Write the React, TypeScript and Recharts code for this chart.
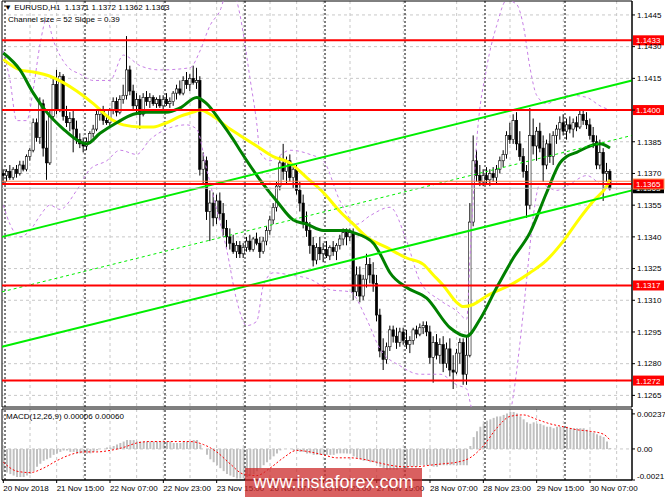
import React from 'react';
import { ComposedChart, Bar, Line, XAxis, YAxis, ReferenceLine, ReferenceArea, CartesianGrid } from 'recharts';

// ---------- DATA ----------
// hourly EURUSD candles [open, high, low, close], 20 Nov 23:00 .. 30 Nov 14:00
const candles: number[][] = [
  [1.1370,1.1372,1.1365,1.1369],[1.1369,1.1372,1.1366,1.1371],[1.1371,1.1374,1.1367,1.1368],[1.1368,1.1373,1.1367,1.1372],[1.1372,1.1374,1.1368,1.1370],
  [1.1370,1.1376,1.1369,1.1374],[1.1374,1.1376,1.1371,1.1372],[1.1372,1.1379,1.1371,1.1378],[1.1378,1.1382,1.1376,1.1381],[1.1381,1.1396,1.1380,1.1394],
  [1.1394,1.1396,1.1385,1.1387],[1.1387,1.1406,1.1384,1.1403],[1.1403,1.1405,1.1378,1.1382],[1.1382,1.1395,1.1367,1.1375],[1.1375,1.1400,1.1374,1.1397],
  [1.1397,1.1415,1.1396,1.1412],[1.1412,1.1419,1.1398,1.1400],[1.1400,1.1418,1.1399,1.1416],[1.1416,1.1417,1.1395,1.1397],[1.1397,1.1402,1.1392,1.1394],
  [1.1394,1.1399,1.1390,1.1396],[1.1396,1.1400,1.1380,1.1391],[1.1391,1.1395,1.1384,1.1386],[1.1386,1.1389,1.1382,1.1384],[1.1384,1.1387,1.1380,1.1383],
  [1.1383,1.1387,1.1381,1.1385],[1.1385,1.1390,1.1384,1.1389],[1.1389,1.1393,1.1387,1.1391],[1.1391,1.1400,1.1390,1.1398],[1.1398,1.1401,1.1395,1.1400],
  [1.1400,1.1402,1.1393,1.1395],[1.1395,1.1398,1.1393,1.1394],[1.1394,1.1401,1.1392,1.1400],[1.1400,1.1406,1.1398,1.1404],[1.1404,1.1406,1.1397,1.1399],
  [1.1399,1.1407,1.1398,1.1405],[1.1405,1.1412,1.1403,1.1407],[1.1407,1.1435,1.1405,1.1419],[1.1419,1.1421,1.1407,1.1409],[1.1409,1.1412,1.1400,1.1402],
  [1.1402,1.1408,1.1399,1.1405],[1.1405,1.1407,1.1391,1.1398],[1.1398,1.1408,1.1397,1.1406],[1.1406,1.1409,1.1402,1.1404],[1.1404,1.1408,1.1401,1.1406],
  [1.1406,1.1407,1.1402,1.1403],[1.1403,1.1406,1.1401,1.1405],[1.1405,1.1407,1.1401,1.1402],[1.1402,1.1407,1.1400,1.1405],[1.1405,1.1408,1.1402,1.1403],
  [1.1403,1.1406,1.1401,1.1404],[1.1404,1.1409,1.1402,1.1408],[1.1408,1.1412,1.1405,1.1410],[1.1410,1.1414,1.1407,1.1408],[1.1408,1.1416,1.1407,1.1414],
  [1.1414,1.1418,1.1410,1.1412],[1.1412,1.1417,1.1409,1.1415],[1.1415,1.1421,1.1412,1.1413],[1.1413,1.1420,1.1410,1.1414],[1.1414,1.1416,1.1369,1.1372],
  [1.1372,1.1380,1.1365,1.1376],[1.1376,1.1378,1.1348,1.1352],[1.1352,1.1362,1.1338,1.1356],[1.1356,1.1361,1.1345,1.1349],[1.1349,1.1360,1.1346,1.1357],
  [1.1357,1.1361,1.1348,1.1351],[1.1351,1.1356,1.1340,1.1344],[1.1344,1.1348,1.1335,1.1340],[1.1340,1.1344,1.1334,1.1337],[1.1337,1.1341,1.1332,1.1333],
  [1.1333,1.1338,1.1330,1.1336],[1.1336,1.1338,1.1330,1.1332],[1.1332,1.1337,1.1330,1.1335],[1.1335,1.1340,1.1333,1.1338],[1.1338,1.1341,1.1333,1.1334],
  [1.1334,1.1340,1.1333,1.1339],[1.1339,1.1342,1.1336,1.1337],[1.1337,1.1340,1.1330,1.1333],[1.1333,1.1340,1.1332,1.1338],[1.1338,1.1345,1.1336,1.1343],
  [1.1343,1.1350,1.1341,1.1348],[1.1348,1.1356,1.1346,1.1354],[1.1354,1.1366,1.1352,1.1364],[1.1364,1.1378,1.1362,1.1375],[1.1375,1.1384,1.1367,1.1371],
  [1.1371,1.1378,1.1365,1.1376],[1.1376,1.1379,1.1366,1.1368],[1.1368,1.1374,1.1363,1.1372],[1.1372,1.1374,1.1360,1.1362],[1.1362,1.1366,1.1352,1.1356],
  [1.1356,1.1360,1.1344,1.1347],[1.1347,1.1352,1.1340,1.1343],[1.1343,1.1347,1.1332,1.1336],[1.1336,1.1340,1.1326,1.1329],[1.1329,1.1337,1.1327,1.1335],
  [1.1335,1.1340,1.1329,1.1332],[1.1332,1.1337,1.1328,1.1334],[1.1334,1.1338,1.1330,1.1331],[1.1331,1.1336,1.1329,1.1335],[1.1335,1.1338,1.1331,1.1333],
  [1.1333,1.1337,1.1329,1.1336],[1.1336,1.1341,1.1334,1.1339],[1.1339,1.1344,1.1336,1.1342],[1.1342,1.1344,1.1336,1.1340],[1.1340,1.1344,1.1338,1.1342],
  [1.1342,1.1344,1.1310,1.1314],[1.1314,1.1326,1.1312,1.1322],[1.1322,1.1326,1.1309,1.1312],[1.1312,1.1322,1.1310,1.1320],[1.1320,1.1332,1.1316,1.1327],
  [1.1327,1.1330,1.1318,1.1322],[1.1322,1.1328,1.1314,1.1318],[1.1318,1.1322,1.1300,1.1303],[1.1303,1.1306,1.1283,1.1286],[1.1286,1.1292,1.1277,1.1282],
  [1.1282,1.1290,1.1280,1.1288],[1.1288,1.1298,1.1286,1.1296],[1.1296,1.1298,1.1290,1.1293],[1.1293,1.1297,1.1287,1.1290],[1.1290,1.1297,1.1288,1.1295],
  [1.1295,1.1297,1.1289,1.1291],[1.1291,1.1296,1.1287,1.1289],[1.1289,1.1293,1.1285,1.1291],[1.1291,1.1297,1.1289,1.1296],[1.1296,1.1298,1.1292,1.1294],
  [1.1294,1.1299,1.1293,1.1297],[1.1297,1.1300,1.1294,1.1298],[1.1298,1.1300,1.1293,1.1295],[1.1295,1.1298,1.1280,1.1283],[1.1283,1.1293,1.1271,1.1290],
  [1.1290,1.1294,1.1282,1.1284],[1.1284,1.1292,1.1280,1.1289],[1.1289,1.1293,1.1276,1.1280],[1.1280,1.1290,1.1278,1.1287],[1.1287,1.1292,1.1274,1.1277],
  [1.1277,1.1284,1.1268,1.1276],[1.1276,1.1287,1.1275,1.1285],[1.1285,1.1292,1.1280,1.1290],[1.1290,1.1292,1.1270,1.1275],[1.1275,1.1293,1.1270,1.1284],
  [1.1284,1.1356,1.1283,1.1347],[1.1347,1.1388,1.1345,1.1376],[1.1376,1.1381,1.1366,1.1369],[1.1369,1.1374,1.1364,1.1366],[1.1366,1.1372,1.1364,1.1369],
  [1.1369,1.1373,1.1365,1.1367],[1.1367,1.1372,1.1364,1.1370],[1.1370,1.1373,1.1366,1.1368],[1.1368,1.1374,1.1365,1.1372],[1.1372,1.1378,1.1370,1.1376],
  [1.1376,1.1381,1.1373,1.1379],[1.1379,1.1390,1.1377,1.1388],[1.1388,1.1394,1.1384,1.1386],[1.1386,1.1398,1.1384,1.1395],[1.1395,1.1399,1.1381,1.1384],
  [1.1384,1.1390,1.1376,1.1378],[1.1378,1.1382,1.1368,1.1371],[1.1371,1.1374,1.1349,1.1355],[1.1355,1.1401,1.1353,1.1388],[1.1388,1.1396,1.1379,1.1383],
  [1.1383,1.1392,1.1376,1.1390],[1.1390,1.1394,1.1380,1.1382],[1.1382,1.1388,1.1366,1.1374],[1.1374,1.1386,1.1372,1.1384],[1.1384,1.1389,1.1375,1.1378],
  [1.1378,1.1390,1.1374,1.1388],[1.1388,1.1393,1.1384,1.1391],[1.1391,1.1397,1.1386,1.1394],[1.1394,1.1398,1.1388,1.1390],[1.1390,1.1396,1.1386,1.1393],
  [1.1393,1.1397,1.1389,1.1391],[1.1391,1.1396,1.1387,1.1394],[1.1394,1.1397,1.1390,1.1392],[1.1392,1.1400,1.1391,1.1398],[1.1398,1.1400,1.1393,1.1395],
  [1.1395,1.1399,1.1391,1.1393],[1.1393,1.1396,1.1386,1.1388],[1.1388,1.1392,1.1382,1.1385],[1.1385,1.1388,1.1372,1.1374],[1.1374,1.1386,1.1372,1.1380],
  [1.1380,1.1382,1.1357,1.1370],[1.1370,1.1375,1.1366,1.1371],[1.1371,1.1372,1.1362,1.1363],
];

// moving averages read at bar index [bar, price]
const maGreen: [number, number][] = [[0,1.1427],[5,1.1419],[9,1.1408],[13,1.1399],[18,1.1391],[23,1.1385],[25,1.1384],[29,1.1389],[34,1.1394],[39,1.1398],[43,1.1399],[49,1.1399],[53,1.1401],[58,1.1406],[61,1.1403],[65,1.1395],[69,1.1386],[71,1.1381],[77,1.1367],[82,1.1357],[87,1.1348],[91,1.1346],[96,1.1343],[103,1.1343],[105,1.1342],[111,1.1337],[113,1.1332],[116,1.1323],[121,1.1316],[127,1.1311],[134,1.1297],[139,1.1293],[143,1.1301],[148,1.1316],[153,1.1330],[158,1.1342],[163,1.1361],[167,1.1375],[169,1.1378],[172,1.1380],[176,1.1383],[179,1.1384],[182,1.1382]];
const maYellow: [number, number][] = [[0,1.1424],[5,1.1419],[9,1.1418],[14,1.1416],[18,1.1413],[22,1.1409],[27,1.1403],[32,1.1396],[36,1.1393],[41,1.1392],[45,1.1392],[49,1.1394],[53,1.1397],[57,1.1399],[59,1.1400],[63,1.1397],[68,1.1391],[71,1.1388],[76,1.1383],[81,1.1378],[86,1.1375],[91,1.1368],[96,1.1361],[101,1.1352],[105,1.1346],[109,1.1340],[115,1.1335],[121,1.1330],[126,1.1327],[129,1.1322],[132,1.1317],[136,1.1309],[138,1.1307],[141,1.1308],[145,1.1312],[153,1.1318],[158,1.1323],[163,1.1329],[168,1.1338],[173,1.1349],[177,1.1357],[181,1.1364],[182,1.1367]];
// bollinger-style bands [bar, price]
const bandUpper: [number, number][] = [[0,1.1428],[2,1.1414],[4,1.1395],[7,1.1395],[9,1.1410],[11,1.1431],[13,1.1443],[15,1.1433],[19,1.1421],[23,1.1417],[27,1.1414],[32,1.1414],[36,1.1426],[41,1.1421],[47,1.1419],[56,1.1420],[59,1.1428],[62,1.1440],[65,1.1447],[67,1.1455],[69,1.1455],[71,1.1445],[72,1.1436],[74,1.1415],[76,1.1394],[77,1.1380],[80,1.1376],[86,1.1381],[92,1.1379],[96,1.1376],[101,1.1357],[106,1.1346],[110,1.1350],[116,1.1354],[121,1.1338],[125,1.1319],[131,1.1310],[136,1.1305],[139,1.1301],[140,1.1330],[142,1.1385],[145,1.1420],[148,1.1440],[151,1.1452],[154,1.1450],[156,1.1440],[158,1.1420],[160,1.1407],[163,1.1403],[166,1.1405],[170,1.1407],[175,1.1406],[179,1.1402],[182,1.1400]];
const bandLower: [number, number][] = [[0,1.1355],[2,1.1346],[5,1.1340],[8,1.1343],[11,1.1350],[14,1.1355],[17,1.1353],[22,1.1362],[26,1.1372],[31,1.1376],[35,1.1381],[40,1.1379],[44,1.1386],[49,1.1391],[55,1.1393],[58,1.1391],[61,1.1372],[64,1.1353],[67,1.1334],[70,1.1310],[73,1.1298],[76,1.1300],[78,1.1317],[81,1.1323],[86,1.1322],[92,1.1320],[98,1.1315],[104,1.1314],[109,1.1301],[113,1.1287],[119,1.1279],[125,1.1275],[131,1.1275],[136,1.1270],[139,1.1268],[140,1.1262],[142,1.1248],[146,1.1240],[150,1.1245],[153,1.1265],[155,1.1290],[157,1.1320],[159,1.1350],[161,1.1365],[166,1.1362],[170,1.1365],[175,1.1369],[179,1.1365],[182,1.1362]];

// MACD main (histogram) per bar
const macdHist = [
  -0.0015,-0.0016,-0.0017,-0.0018,-0.0019,-0.0019,
  -0.0019,-0.0018,-0.0017,-0.0015,
  -0.0012,-0.0010,-0.0008,-0.0007,-0.0006,-0.0004,
  -0.0003,-0.0002,-0.0001,-0.0001,-0.0002,-0.0002,-0.0003,-0.0003,-0.0003,
  -0.0003,-0.0003,-0.0002,-0.0001,0.0000,0.0000,0.0001,0.0001,0.0002,
  0.0003,0.0004,0.0005,0.0006,0.0006,0.0006,0.0005,0.0005,0.0005,0.0005,0.0005,0.0005,
  0.0005,0.0005,0.0005,0.0005,0.0005,0.0004,0.0004,0.0004,0.0005,0.0005,0.0005,0.0006,0.0006,
  0.0003,0.0000,-0.0004,-0.0007,-0.0009,-0.0011,-0.0013,-0.0015,-0.0017,-0.0018,-0.0019,-0.0020,-0.0020,-0.0020,
  -0.0019,-0.0018,-0.0017,-0.0015,-0.0013,-0.0011,-0.0009,-0.0007,-0.0005,-0.0003,-0.0001,0.0000,0.0000,0.0000,-0.0001,-0.0001,
  -0.0002,-0.0002,-0.0003,-0.0003,-0.0004,-0.0004,-0.0004,-0.0004,-0.0004,-0.0004,-0.0004,-0.0003,
  -0.0003,-0.0003,-0.0003,-0.0003,
  -0.0005,-0.0006,-0.0007,-0.0008,-0.0008,-0.0009,-0.0009,-0.0010,
  -0.0012,-0.0013,-0.0014,-0.0014,-0.0014,-0.0014,-0.0013,-0.0013,-0.0013,-0.0012,-0.0012,-0.0012,-0.0011,
  -0.0011,-0.0011,-0.0011,-0.0012,-0.0012,-0.0011,-0.0011,-0.0011,-0.0011,-0.0011,-0.0011,-0.0011,-0.0011,-0.0011,
  0.0002,0.0008,0.0012,0.0015,0.0017,0.0019,0.0020,0.0021,0.0022,0.0022,
  0.0023,0.0024,0.0025,0.0025,0.0024,0.0022,0.0020,0.0018,0.0017,0.0018,
  0.0017,0.0017,0.0016,0.0015,0.0015,0.0014,0.0015,0.0015,0.0015,0.0015,
  0.0014,0.0014,0.0014,0.0014,0.0014,0.0013,0.0012,0.0011,0.0010,0.0009,
  0.0008,0.0005,0.00006,
];
// MACD signal line [bar, value]
const macdSignal: [number, number][] = [[0,-0.0009],[4,-0.0015],[8,-0.0016],[12,-0.0013],[16,-0.0008],[20,-0.0004],[24,-0.0002],[28,-0.0002],[32,-0.0001],[36,0.0001],[40,0.0004],[44,0.0005],[48,0.0005],[52,0.0005],[56,0.0005],[60,0.0003],[64,-0.0002],[68,-0.0010],[72,-0.0017],[76,-0.0018],[80,-0.0013],[84,-0.0006],[88,-0.0001],[92,-0.0002],[96,-0.0004],[100,-0.0006],[104,-0.0006],[108,-0.0007],[112,-0.0009],[116,-0.0011],[120,-0.0012],[124,-0.0012],[128,-0.0011],[132,-0.0010],[136,-0.0009],[140,-0.0006],[144,0.0002],[148,0.0014],[152,0.0022],[156,0.0023],[160,0.0020],[164,0.0017],[168,0.0015],[172,0.0013],[176,0.0012],[180,0.0010],[182,0.0006]];

const priceTicks = [1.1445,1.1430,1.1415,1.1400,1.1385,1.1370,1.1355,1.1340,1.1325,1.1310,1.1295,1.1280,1.1265];
const levelPrices = [1.1433,1.1400,1.1365,1.1317,1.1272];
const bidPrice = 1.1363;
const askPrice = 1.13663;
const macdTicks = [0.00237, 0, -0.0021];
const timeTickIdx = [0,16,32,48,64,80,96,112,128,144,160,176];
const timeTickLabels = ['20 Nov 2018','21 Nov 15:00','22 Nov 07:00','22 Nov 23:00','23 Nov 15:00','26 Nov 07:00','26 Nov 23:00','27 Nov 15:00','28 Nov 07:00','28 Nov 23:00','29 Nov 15:00','30 Nov 07:00'];
const gridIdx = [0,8,16,24,32,40,48,56,64,72,80,88,96,104,112,120,128,136,144,152,160,168,176,184];
const daySepIdx = [0.5,24.5,48.5,72.5,96.5,120.5,144.5,168.5];
// regression channel endpoints [bar, price]
const chanUpper: [number, number][] = [[-0.4,1.1340],[188.6,1.1414]];
const chanMiddle: [number, number][] = [[-0.4,1.1314],[188.6,1.1388]];
const chanLower: [number, number][] = [[-0.4,1.1288],[188.6,1.1362]];

const X_DOMAIN: [number, number] = [-0.4, 188.6];
const P_DOMAIN: [number, number] = [1.12595, 1.14516];
const M_DOMAIN: [number, number] = [-0.0021, 0.0027];

const toMap = (a: [number, number][]) => new Map(a);
const mG = toMap(maGreen), mY = toMap(maYellow), bU = toMap(bandUpper), bL = toMap(bandLower), sg = toMap(macdSignal);

const rows = candles.map((c, i) => ({
  i,
  hl: [c[2], c[1]],
  o: c[0], h: c[1], l: c[2], c: c[3],
  ma1: mG.has(i) ? mG.get(i) : null,
  ma2: mY.has(i) ? mY.get(i) : null,
  bu: bU.has(i) ? bU.get(i) : null,
  bl: bL.has(i) ? bL.get(i) : null,
  macd: macdHist[i],
  sig: sg.has(i) ? sg.get(i) : null,
}));

// ---------- SHAPES ----------
const Candle = (props: any) => {
  const { x, y, width, height, payload } = props;
  if (x == null || payload == null) return null;
  const { o, h, l, c } = payload;
  const top = Math.min(y, y + height);
  const hh = Math.abs(height);
  const cx = x + width / 2;
  const range = h - l;
  const py = (p: number) => (range === 0 ? top : top + ((h - p) / range) * hh);
  const bTop = py(Math.max(o, c));
  const bBot = py(Math.min(o, c));
  const bull = c >= o;
  return (
    <g>
      <line x1={cx} x2={cx} y1={top} y2={top + hh} stroke="#000" strokeWidth={1} />
      <rect x={cx - 1.2} y={bTop} width={2.4} height={Math.max(bBot - bTop, 0.8)} fill={bull ? '#fff' : '#000'} stroke="#000" strokeWidth={0.6} />
    </g>
  );
};

const LevelTag = (props: any) => {
  const { viewBox, text, fill, stroke } = props;
  if (!viewBox) return null;
  const x = viewBox.x + viewBox.width + 1;
  const y = viewBox.y;
  return (
    <g>
      <rect x={x} y={y - 5} width={31} height={10} fill={fill} stroke={stroke || 'none'} strokeWidth={1} />
      <text x={x + 3} y={y + 3} fontSize={8} fill="#fff">{text}</text>
    </g>
  );
};

// price tick label; labels lying under a level tag are covered in the original
const PriceTick = (props: any) => {
  const { x, y, payload } = props;
  const v = payload.value as number;
  const covered = levelPrices.some((p) => Math.abs(p - v) < 0.00015);
  if (covered) return null;
  return (
    <text x={x} y={y} dy="0.35em" fontSize={8} fill="#000" textAnchor="start">{v.toFixed(4)}</text>
  );
};

const TimeTick = (props: any) => {
  const { x, y, payload } = props;
  const k = timeTickIdx.indexOf(payload.value);
  return (
    <text x={x} y={y} dy="0.71em" fontSize={8} fill="#000" textAnchor="start">{k >= 0 ? timeTickLabels[k] : ''}</text>
  );
};

const MacdTick = (props: any) => {
  const { x, y, payload } = props;
  const v = payload.value;
  const label = v === 0 ? '0.00' : String(v);
  return (
    <text x={x} y={v < 0 ? y - 4 : y} dy="0.35em" fontSize={8} fill="#000" textAnchor="start">{label}</text>
  );
};

const seg = (a: [number, number][]) => a.map(([x, y]) => ({ x, y }));

export default function App() {
  const font = '"Liberation Sans", Arial, sans-serif';
  return (
    <div style={{ position: 'absolute', left: 0, top: 0, width: 665, height: 499, background: '#fff', fontFamily: font, overflow: 'hidden' }}>
      <div style={{ position: 'absolute', left: 0, top: 0 }}>
        <ComposedChart width={665} height={408} data={rows} margin={{ top: 1, right: 0, left: 2, bottom: 1 }}>
          <CartesianGrid stroke="#c8c8c8" strokeDasharray="3 3" horizontalValues={priceTicks} verticalValues={gridIdx} />
          <XAxis dataKey="i" type="number" domain={X_DOMAIN} allowDataOverflow hide ticks={gridIdx} />
          <YAxis orientation="right" width={33} domain={P_DOMAIN} allowDataOverflow ticks={priceTicks}
            tick={<PriceTick />} tickLine={{ stroke: '#000' }} tickSize={3} tickMargin={2} axisLine={{ stroke: '#000' }} interval={0} />
          {daySepIdx.map((d) => (
            <ReferenceLine key={'d' + d} x={d} stroke="#000" strokeDasharray="2 2" strokeWidth={1} />
          ))}
          <Line dataKey="bu" stroke="#c77fe6" strokeWidth={1} strokeDasharray="3 3" dot={false} connectNulls type="monotone" isAnimationActive={false} />
          <Line dataKey="bl" stroke="#c77fe6" strokeWidth={1} strokeDasharray="3 3" dot={false} connectNulls type="monotone" isAnimationActive={false} />
          <Bar dataKey="hl" shape={<Candle />} barSize={3} isAnimationActive={false} />
          <Line dataKey="ma2" stroke="#ffff00" strokeWidth={3} dot={false} connectNulls type="monotone" isAnimationActive={false} />
          <Line dataKey="ma1" stroke="#008000" strokeWidth={3} dot={false} connectNulls type="monotone" isAnimationActive={false} />
          <ReferenceLine segment={seg(chanUpper)} stroke="#00ee00" strokeWidth={2} />
          <ReferenceLine segment={seg(chanMiddle)} stroke="#00ee00" strokeWidth={1} strokeDasharray="3 3" />
          <ReferenceLine segment={seg(chanLower)} stroke="#00ee00" strokeWidth={2} />
          <ReferenceLine y={bidPrice} stroke="#c0c0c0" strokeWidth={1} label={<LevelTag text={bidPrice.toFixed(4)} fill="#000" />} />
          <ReferenceLine y={askPrice} stroke="#ff7f50" strokeWidth={1} />
          {levelPrices.map((p) => (
            <ReferenceLine key={'l' + p} y={p} stroke="#ff0000" strokeWidth={2}
              label={<LevelTag text={p.toFixed(4)} fill="#ff0000" stroke={p === 1.1365 ? '#ff9050' : undefined} />} />
          ))}
          <ReferenceArea x1={X_DOMAIN[0]} x2={X_DOMAIN[1]} y1={P_DOMAIN[0]} y2={P_DOMAIN[1]} fill="none" stroke="#000" strokeWidth={1} />
        </ComposedChart>
      </div>
      <div style={{ position: 'absolute', left: 0, top: 408 }}>
        <ComposedChart width={665} height={91} data={rows} margin={{ top: 1, right: 0, left: 2, bottom: 0 }}>
          <CartesianGrid stroke="#c8c8c8" strokeDasharray="3 3" horizontalValues={[0]} verticalValues={gridIdx} />
          <XAxis dataKey="i" type="number" domain={X_DOMAIN} allowDataOverflow ticks={timeTickIdx} interval={0}
            tick={<TimeTick />} height={19} tickSize={3} tickMargin={2} tickLine={{ stroke: '#000' }} axisLine={{ stroke: '#000' }} />
          <YAxis orientation="right" width={33} domain={M_DOMAIN} allowDataOverflow ticks={macdTicks} interval={0}
            tick={<MacdTick />} tickSize={3} tickMargin={2} tickLine={{ stroke: '#000' }} axisLine={{ stroke: '#000' }} />
          {daySepIdx.map((d) => (
            <ReferenceLine key={'md' + d} x={d} stroke="#000" strokeDasharray="2 2" strokeWidth={1} />
          ))}
          <Bar dataKey="macd" fill="#c0c0c0" barSize={2} isAnimationActive={false} />
          <Line dataKey="sig" stroke="#ff0000" strokeWidth={1} strokeDasharray="2 2" dot={false} connectNulls type="monotone" isAnimationActive={false} />
          <ReferenceArea x1={X_DOMAIN[0]} x2={X_DOMAIN[1]} y1={M_DOMAIN[0]} y2={M_DOMAIN[1]} fill="none" stroke="#000" strokeWidth={1} />
        </ComposedChart>
      </div>
      <div style={{ position: 'absolute', left: 4, top: 3, fontSize: 8, lineHeight: '10px', whiteSpace: 'pre', color: '#000' }}>
        {'▼ EURUSD,H1  1.1371 1.1372 1.1362 1.1363'}
      </div>
      <div style={{ position: 'absolute', left: 8, top: 15, fontSize: 8, lineHeight: '10px', whiteSpace: 'pre', color: '#000' }}>
        {'Channel size = 52 Slope = 0.39'}
      </div>
      <div style={{ position: 'absolute', left: 6, top: 412, fontSize: 8, lineHeight: '10px', whiteSpace: 'pre', color: '#000' }}>
        {'MACD(12,26,9) 0.00006 0.00060'}
      </div>
      <div style={{ position: 'absolute', left: 245, top: 468, width: 177, height: 29, background: 'rgba(204,40,40,0.74)', color: '#fff', fontSize: 18, lineHeight: '29px', textAlign: 'center', fontFamily: 'Arial, "Liberation Sans", sans-serif' }}>
        www.instaforex.com
      </div>
    </div>
  );
}
